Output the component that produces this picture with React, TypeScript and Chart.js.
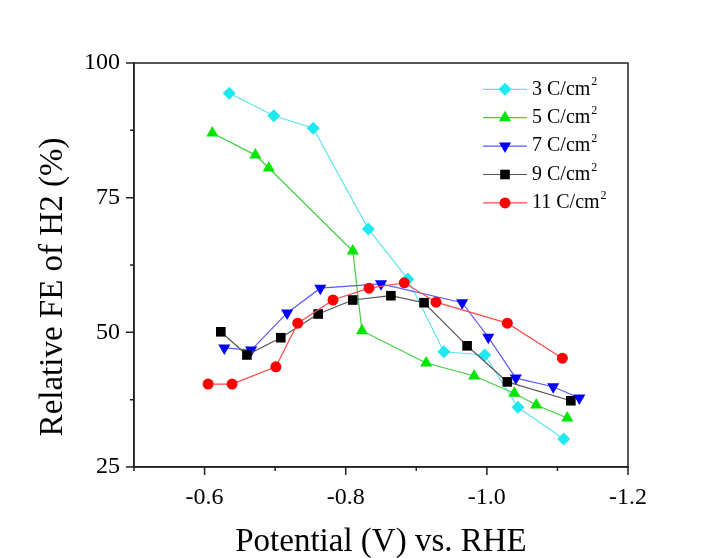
import React, { useEffect, useRef } from 'react';
import { Chart, registerables } from 'chart.js';

Chart.register(...registerables);

// ---- data ----
const seriesLabels = ['3 C/cm', '5 C/cm', '7 C/cm', '9 C/cm', '11 C/cm'];

const x3 = [-0.635, -0.698, -0.754, -0.832, -0.888, -0.939, -0.997, -1.044, -1.109];
const y3 = [94.4, 90.2, 87.9, 69.2, 59.9, 46.4, 45.8, 36.1, 30.2];

const x5 = [-0.611, -0.672, -0.691, -0.81, -0.823, -0.914, -0.982, -1.039, -1.07, -1.114];
const y5 = [87.0, 82.9, 80.5, 65.1, 50.3, 44.3, 41.9, 38.7, 36.5, 34.1];

const x7 = [-0.628, -0.666, -0.717, -0.764, -0.85, -0.965, -1.002, -1.041, -1.094, -1.131];
const y7 = [47.1, 46.7, 53.6, 58.2, 59.0, 55.5, 49.1, 41.5, 39.9, 37.8];

const x9 = [-0.623, -0.66, -0.708, -0.761, -0.81, -0.864, -0.911, -0.972, -1.029, -1.119];
const y9 = [50.1, 45.8, 49.0, 53.4, 56.0, 56.8, 55.5, 47.5, 40.8, 37.3];

const x11 = [-0.605, -0.639, -0.701, -0.732, -0.782, -0.833, -0.883, -0.928, -1.029, -1.107];
const y11 = [40.4, 40.4, 43.6, 51.7, 56.0, 58.2, 59.2, 55.6, 51.7, 45.2];

const xTickValues = [-0.5, -0.6, -0.7, -0.8, -0.9, -1.0, -1.1, -1.2];
const xTickLabels = ['', '-0.6', '', '-0.8', '', '-1.0', '', '-1.2'];
const yTickValues = [25, 37.5, 50, 62.5, 75, 87.5, 100];
const yTickLabels = ['25', '', '50', '', '75', '', '100'];

const xTitle = 'Potential (V) vs. RHE';
const yTitle = 'Relative FE of H2 (%)';

// ---- styles ----
const FONT = '"Liberation Serif", "Times New Roman", serif';
const AXIS = '#222222';
const markerColors = ['#1EE8F0', '#00E600', '#0000FF', '#000000', '#FF0000'];
const lineColors = ['#60E4F0', '#3FCF3F', '#5A5AFF', '#555555', '#FF4A4A'];
const markerStyles = ['rectRot', 'triangle', 'triangleDown', 'rect', 'circle'];
const markerRadius = [6.5, 7, 7, 6.8, 5.5];

function drawMarker(ctx: CanvasRenderingContext2D, style: string, x: number, y: number, r: number, color: string) {
  ctx.save();
  ctx.fillStyle = color;
  ctx.beginPath();
  if (style === 'circle') {
    ctx.arc(x, y, r, 0, Math.PI * 2);
  } else if (style === 'rect') {
    const s = Math.SQRT1_2 * r;
    ctx.rect(x - s, y - s, 2 * s, 2 * s);
  } else if (style === 'rectRot') {
    ctx.moveTo(x, y - r);
    ctx.lineTo(x + r, y);
    ctx.lineTo(x, y + r);
    ctx.lineTo(x - r, y);
    ctx.closePath();
  } else {
    const rot = style === 'triangleDown' ? Math.PI : 0;
    for (let k = 0; k < 3; k++) {
      const a = rot + (k * 2 * Math.PI) / 3;
      const px = x + Math.sin(a) * r;
      const py = y - Math.cos(a) * r;
      if (k === 0) ctx.moveTo(px, py);
      else ctx.lineTo(px, py);
    }
    ctx.closePath();
  }
  ctx.fill();
  ctx.restore();
}

const framePlugin = {
  id: 'framePlugin',
  afterDraw(chart: any) {
    const { ctx, chartArea } = chart;
    const { left, right, top, bottom } = chartArea;
    const xs = chart.scales.x;
    const ys = chart.scales.y;
    ctx.save();
    ctx.strokeStyle = AXIS;
    ctx.lineWidth = 1.5;
    ctx.strokeRect(left, top, right - left, bottom - top);
    ctx.beginPath();
    xTickValues.forEach((v, i) => {
      const px = xs.getPixelForValue(v);
      const len = xTickLabels[i] ? 8 : 4;
      ctx.moveTo(px, bottom);
      ctx.lineTo(px, bottom + len);
    });
    yTickValues.forEach((v, i) => {
      const py = ys.getPixelForValue(v);
      const len = yTickLabels[i] ? 8 : 4;
      ctx.moveTo(left, py);
      ctx.lineTo(left - len, py);
    });
    ctx.stroke();

    // y axis title
    ctx.save();
    ctx.translate(53, 287);
    ctx.rotate(-Math.PI / 2);
    ctx.fillStyle = '#000';
    ctx.font = `33px ${FONT}`;
    ctx.textAlign = 'center';
    ctx.textBaseline = 'middle';
    ctx.fillText(yTitle, 0, 0);
    ctx.restore();

    // legend
    const y0 = 89.3;
    const step = 28.4;
    seriesLabels.forEach((lab, i) => {
      const y = y0 + i * step;
      ctx.beginPath();
      ctx.strokeStyle = lineColors[i];
      ctx.lineWidth = 1.2;
      ctx.moveTo(483, y);
      ctx.lineTo(527, y);
      ctx.stroke();
      drawMarker(ctx, markerStyles[i], 505, y, markerRadius[i], markerColors[i]);
      ctx.fillStyle = '#000';
      ctx.font = `20px ${FONT}`;
      ctx.textBaseline = 'middle';
      ctx.textAlign = 'left';
      ctx.fillText(lab, 532, y);
      const w = ctx.measureText(lab).width;
      ctx.font = `12px ${FONT}`;
      ctx.fillText('2', 532 + w + 1, y - 7);
    });
    ctx.restore();
  },
};

function makeData(xs: number[], ys: number[]) {
  return xs.map((x, i) => ({ x, y: ys[i] }));
}

export default function App() {
  const ref = useRef<HTMLCanvasElement | null>(null);

  useEffect(() => {
    if (!ref.current) return;
    const seriesX = [x3, x5, x7, x9, x11];
    const seriesY = [y3, y5, y7, y9, y11];
    const datasets = seriesLabels.map((lab, i) => ({
      label: lab + '2',
      data: makeData(seriesX[i], seriesY[i]),
      borderColor: lineColors[i],
      backgroundColor: markerColors[i],
      borderWidth: 1.2,
      pointStyle: markerStyles[i] === 'triangleDown' ? 'triangle' : markerStyles[i],
      pointRotation: markerStyles[i] === 'triangleDown' ? 180 : 0,
      pointRadius: markerRadius[i],
      pointBorderWidth: 0,
      pointBackgroundColor: markerColors[i],
      pointBorderColor: markerColors[i],
      showLine: true,
      tension: 0,
      order: 5 - i,
    }));

    const chart = new Chart(ref.current, {
      type: 'scatter',
      data: { datasets },
      options: {
        animation: false,
        responsive: false,
        devicePixelRatio: 1,
        layout: { padding: { left: 0, top: 63, right: 95, bottom: 0 } },
        plugins: { legend: { display: false }, tooltip: { enabled: false } },
        scales: {
          x: {
            type: 'linear',
            reverse: true,
            min: -1.2,
            max: -0.5,
            afterBuildTicks: (s: any) => {
              s.ticks = xTickValues.map((v) => ({ value: v }));
            },
            afterFit: (s: any) => {
              s.height = 91;
            },
            border: { display: true, color: AXIS, width: 1.5 },
            grid: { display: true, drawOnChartArea: false, drawTicks: true, tickLength: 8, tickColor: 'rgba(0,0,0,0)' },
            ticks: {
              autoSkip: false,
              maxRotation: 0,
              padding: 8,
              color: '#000',
              font: { family: FONT, size: 24 },
              callback: (_v: any, idx: number) => xTickLabels[idx],
            },
            title: {
              display: true,
              text: xTitle,
              color: '#000',
              font: { family: FONT, size: 33, lineHeight: 1 },
              padding: { top: 0, bottom: -1 },
            },
          },
          y: {
            type: 'linear',
            min: 25,
            max: 100,
            afterBuildTicks: (s: any) => {
              s.ticks = yTickValues.map((v) => ({ value: v }));
            },
            afterFit: (s: any) => {
              s.width = 134;
            },
            border: { display: true, color: AXIS, width: 1.5 },
            grid: { display: true, drawOnChartArea: false, drawTicks: true, tickLength: 8, tickColor: 'rgba(0,0,0,0)' },
            ticks: {
              autoSkip: false,
              padding: 6,
              color: '#000',
              font: { family: FONT, size: 24 },
              callback: (_v: any, idx: number) => yTickLabels[idx],
            },
            title: { display: false, text: yTitle },
          },
        },
      },
      plugins: [framePlugin],
    } as any);

    return () => chart.destroy();
  }, []);

  return (
    <div style={{ position: 'absolute', left: 0, top: 0, width: 723, height: 558, background: '#fff' }}>
      <canvas ref={ref} width={723} height={558} style={{ display: 'block' }} />
    </div>
  );
}
